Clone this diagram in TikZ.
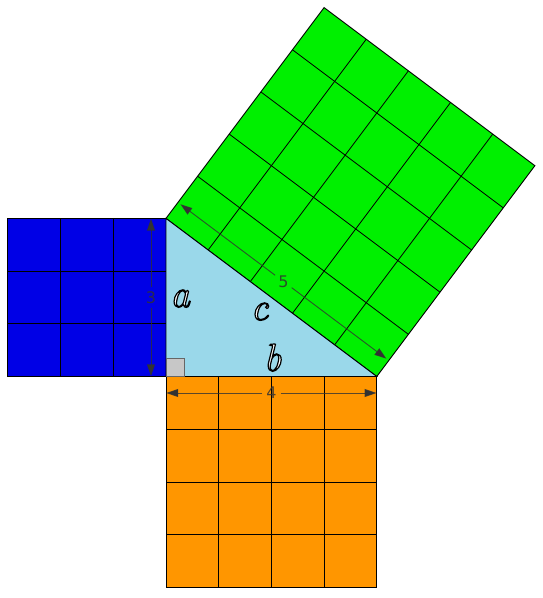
\documentclass[tikz,border=0pt]{standalone}
\usepackage{fontspec}
\usetikzlibrary{calc,arrows.meta}
\newfontfamily\digitfont{DejaVu Sans}
\definecolor{sqblue}{RGB}{0,0,230}
\definecolor{sqgreen}{RGB}{0,240,0}
\definecolor{sqorange}{RGB}{255,150,0}
\definecolor{trifill}{RGB}{154,216,234}
\definecolor{dimgray}{RGB}{50,50,50}
\tikzset{
  sq/.style={draw=black, line width=0.9pt},
  gridline/.style={draw=black, line width=0.8pt},
  dimline/.style={draw=dimgray, draw opacity=0.8, line width=0.9pt},
  dimtip/.style={-{Triangle[length=12pt,width=8pt]}},
  dimlabel/.style={text=dimgray, text opacity=0.85, font=\digitfont\fontsize{16}{16}\selectfont, inner sep=4pt},
  sidelabel/.style={anchor=base, inner sep=0pt, text=white, font=\fontsize{39}{40}\selectfont\itshape},
  rightmark/.style={fill=black!22, draw=black!60, line width=0.9pt}
}
\newcommand{\sidetext}[1]{\special{pdf:literal direct 0 G 1 g 2 Tr 1.2 w}#1\special{pdf:literal direct 0 Tr}}
\begin{document}
\begin{tikzpicture}[x=1pt,y=-1pt]
\useasboundingbox (0,0) rectangle (542,598);
\coordinate (C) at (166,376.5);
\coordinate (A) at (166,218.4);
\coordinate (B) at (376.8,376.5);
\coordinate (D) at (534.9,165.7);
\coordinate (E) at (324.1,7.6);
% blue square
\fill[sqblue] (7.9,218.4) rectangle (C);
\foreach \x in {60.6,113.3} \draw[gridline] (\x,218.4) -- (\x,376.5);
\foreach \y in {271.1,323.8} \draw[gridline] (7.9,\y) -- (166,\y);
\draw[sq] (7.9,218.4) rectangle (C);
% orange square
\fill[sqorange] (C) rectangle (376.8,587.3);
\foreach \x in {218.7,271.4,324.1} \draw[gridline] (\x,376.5) -- (\x,587.3);
\foreach \y in {429.2,481.9,534.6} \draw[gridline] (166,\y) -- (376.8,\y);
\draw[sq] (C) rectangle (376.8,587.3);
% green square
\fill[sqgreen] (A) -- (B) -- (D) -- (E) -- cycle;
\foreach \i in {1,2,3,4} {
  \draw[gridline] ($(A)!\i/5!(B)$) -- ($(E)!\i/5!(D)$);
  \draw[gridline] ($(A)!\i/5!(E)$) -- ($(B)!\i/5!(D)$);
}
\draw[sq] (A) -- (B) -- (D) -- (E) -- cycle;
% triangle
\fill[trifill] (A) -- (B) -- (C) -- cycle;
\draw[sq] (A) -- (B) -- (C) -- cycle;
\draw[rightmark] (C) rectangle ++(18,-18);
% dimension 3
\coordinate (d3a) at (151,218.6);
\coordinate (d3b) at (151,376.3);
\node[dimlabel] (l3) at (151,297.5) {3};
\draw[dimline,dimtip] (l3) -- (d3a);
\draw[dimline,dimtip] (l3) -- (d3b);
% dimension 4
\coordinate (d4a) at (166.2,393);
\coordinate (d4b) at (376.6,393);
\node[dimlabel] (l4) at (271.4,393) {4\hspace{4pt}};
\draw[dimline,dimtip] (l4) -- (d4a);
\draw[dimline,dimtip] (l4) -- (d4b);
% dimension 5
\coordinate (d5a) at ($(A)+(14.4,-14.2)$);
\coordinate (d5b) at ($(B)+(9.6,-17.8)$);
\node[dimlabel, inner sep=3pt] (l5) at ($(d5a)!0.5!(d5b)$) {5};
\draw[dimline,dimtip] (l5) -- (d5a);
\draw[dimline,dimtip] (l5) -- (d5b);
% side labels
\node[sidelabel] (la) at (180,307) {\sidetext{a}};
\node[sidelabel] (lc) at (259.5,320) {\sidetext{c}};
\node[sidelabel] (lb) at (272.5,371) {\sidetext{b}};
\end{tikzpicture}
\end{document}
